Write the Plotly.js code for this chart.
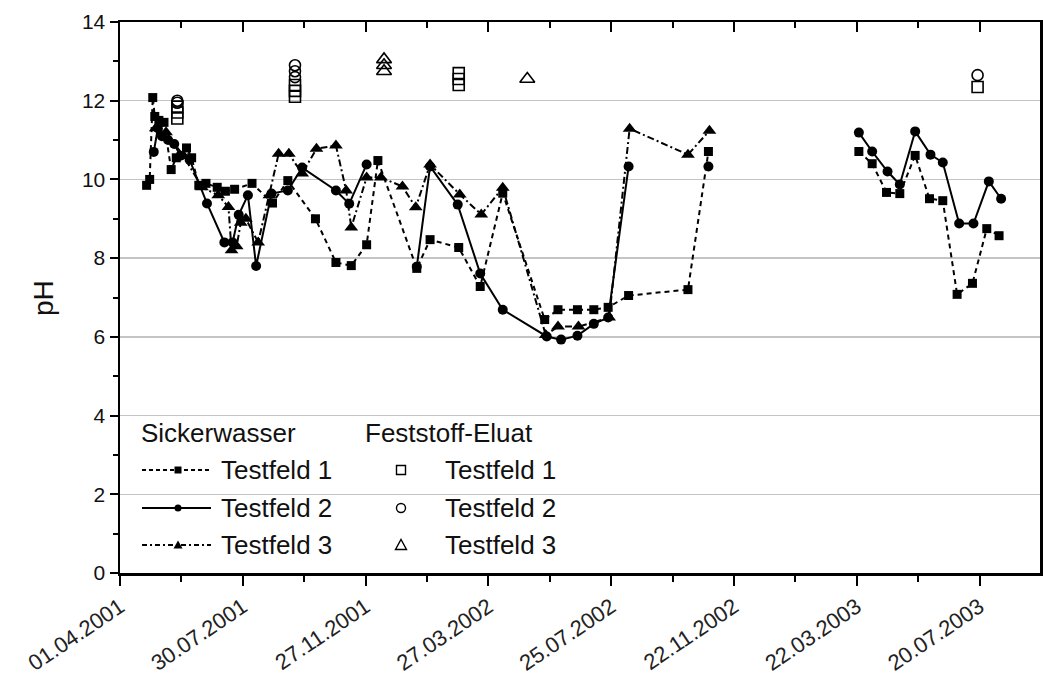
<!DOCTYPE html>
<html><head><meta charset="utf-8">
<script src="https://cdn.plot.ly/plotly-3.0.1.min.js"></script>
<style>html,body{margin:0;padding:0;background:#fff}#chart{width:1043px;height:682px}</style>
</head><body><div id="chart"></div><script>
// ---------- data ----------
const tickDates  = ['2001-04-01','2001-07-30','2001-11-27','2002-03-27','2002-07-25','2002-11-22','2003-03-22','2003-07-20'];
const tickLabels = ['01.04.2001','30.07.2001','27.11.2001','27.03.2002','25.07.2002','22.11.2002','22.03.2003','20.07.2003'];
const minorDates = ['2001-05-31','2001-09-28','2002-01-26','2002-05-26','2002-09-23','2003-01-21','2003-05-21','2003-09-18'];

// Sickerwasser Testfeld 1 (filled squares, dashed)
const sw1Dates = ['2001-04-27','2001-04-30','2001-05-03','2001-05-05','2001-05-09','2001-05-14','2001-05-21','2001-05-26','2001-06-05','2001-06-10','2001-06-17','2001-06-24','2001-07-05','2001-07-13','2001-07-22','2001-08-08','2001-08-28','2001-09-12','2001-10-09','2001-10-29','2001-11-13','2001-11-28','2001-12-09','2002-01-16','2002-01-29','2002-02-26','2002-03-19','2002-04-10','2002-05-21','2002-06-03','2002-06-22','2002-07-08','2002-07-22','2002-08-11','2002-10-08','2002-10-28','2003-01-01','2003-03-24','2003-04-06','2003-04-20','2003-05-03','2003-05-18','2003-06-01','2003-06-14','2003-06-28','2003-07-13','2003-07-27','2003-08-08'];
const sw1Values = [9.85,10.0,12.08,11.6,11.5,11.45,10.25,10.55,10.8,10.55,9.85,9.9,9.8,9.7,9.75,9.9,9.4,9.97,9.0,7.89,7.81,8.34,10.48,7.74,8.47,8.27,7.28,9.65,6.44,6.69,6.69,6.69,6.75,7.05,7.2,10.71,null,10.71,10.40,9.67,9.64,10.61,9.51,9.46,7.08,7.36,8.75,8.57];

// Sickerwasser Testfeld 2 (filled circles, solid)
const sw2Dates = ['2001-05-04','2001-05-08','2001-05-12','2001-05-18','2001-05-24','2001-05-30','2001-06-08','2001-06-25','2001-07-12','2001-07-20','2001-07-26','2001-08-04','2001-08-12','2001-08-27','2001-09-12','2001-09-26','2001-10-29','2001-11-11','2001-11-28','2001-12-20','2002-01-16','2002-01-29','2002-02-25','2002-03-19','2002-04-10','2002-05-23','2002-06-06','2002-06-22','2002-07-08','2002-07-22','2002-08-11','2002-09-20','2002-10-28','2003-01-01','2003-03-24','2003-04-06','2003-04-21','2003-05-03','2003-05-18','2003-06-02','2003-06-14','2003-06-30','2003-07-14','2003-07-29','2003-08-10'];
const sw2Values = [10.7,11.3,11.1,11.0,10.9,10.6,10.5,9.39,8.4,8.4,9.1,9.6,7.8,9.64,9.72,10.3,9.72,9.38,10.38,null,7.78,10.33,9.36,7.61,6.69,6.01,5.93,6.03,6.33,6.49,10.33,null,10.33,null,11.19,10.71,10.2,9.87,11.22,10.63,10.43,8.88,8.88,9.95,9.51];

// Sickerwasser Testfeld 3 (filled triangles, dash-dot)
const sw3Dates = ['2001-05-06','2001-05-16','2001-06-02','2001-06-20','2001-07-06','2001-07-16','2001-07-19','2001-07-24','2001-07-28','2001-08-02','2001-08-14','2001-08-25','2001-09-03','2001-09-13','2001-09-26','2001-10-10','2001-10-29','2001-11-08','2001-11-13','2001-11-28','2001-12-12','2002-01-02','2002-01-15','2002-01-29','2002-02-27','2002-03-20','2002-04-10','2002-05-22','2002-06-03','2002-06-23','2002-07-23','2002-08-12','2002-10-08','2002-10-29'];
const sw3Values = [11.3,11.2,10.6,9.8,9.6,9.3,8.2,8.3,8.9,9.0,8.4,9.6,10.65,10.65,10.15,10.78,10.86,9.72,8.78,10.05,10.05,9.82,9.29,10.38,9.62,9.11,9.79,6.05,6.26,6.26,6.49,11.29,10.63,11.24];

// Feststoff-Eluat (open markers)
const el1Dates  = ['2001-05-27','2001-05-27','2001-05-27','2001-09-19','2001-09-19','2001-09-19','2002-02-26','2002-02-26','2002-02-26','2003-07-18'];
const el1Values = [11.55,11.7,11.85,12.1,12.25,12.4,12.4,12.55,12.7,12.35];
const el2Dates  = ['2001-05-27','2001-05-27','2001-09-19','2001-09-19','2001-09-19','2003-07-18'];
const el2Values = [11.95,12.0,12.6,12.75,12.9,12.65];
const el3Dates  = ['2001-12-15','2001-12-15','2001-12-15','2002-05-04'];
const el3Values = [12.75,12.9,13.05,12.55];

const xRange = ['2001-04-01','2003-09-17'];
const FONT = '"Liberation Sans", Arial, sans-serif';

// ---------- traces ----------
const traces = [
  {x: sw1Dates, y: sw1Values, type:'scatter', mode:'lines+markers', connectgaps:false,
   line:{color:'#000', width:2, dash:'5px,4px'}, marker:{symbol:'square', size:9, color:'#000'}},
  {x: sw2Dates, y: sw2Values, type:'scatter', mode:'lines+markers', connectgaps:false,
   line:{color:'#000', width:2}, marker:{symbol:'circle', size:10, color:'#000'}},
  {x: sw3Dates, y: sw3Values, type:'scatter', mode:'lines+markers', connectgaps:false,
   line:{color:'#000', width:2, dash:'7px,3px,2px,3px'}, marker:{symbol:'triangle-up', size:12, color:'#000'}},
  {x: el1Dates, y: el1Values, type:'scatter', mode:'markers',
   marker:{symbol:'square-open', size:11, color:'#000', line:{width:1.6}}},
  {x: el2Dates, y: el2Values, type:'scatter', mode:'markers',
   marker:{symbol:'circle-open', size:11, color:'#000', line:{width:1.6}}},
  {x: el3Dates, y: el3Values, type:'scatter', mode:'markers',
   marker:{symbol:'triangle-up-open', size:13, color:'#000', line:{width:1.6}}},
  {x: [], y: [], type:'scatter', mode:'markers', xaxis:'x2', hoverinfo:'skip'}
];

// ---------- manual legend ----------
const L = 120, R = 1040, T = 22, B = 573;
const px = v => (v - L) / (R - L);
const py = v => (B - v) / (B - T);
const shapes = [
  {type:'rect', xref:'paper', yref:'paper', x0:px(122), x1:px(585), y0:py(571), y1:py(400),
   fillcolor:'#fff', line:{width:0}, layer:'between'}
];
const annotations = [
  {text:'pH', xref:'paper', yref:'paper', x:px(43), y:py(298), showarrow:false, textangle:-90,
   font:{family:FONT, size:28, color:'#111'}, xanchor:'center', yanchor:'middle'}
];
function txt(t, x, y){
  annotations.push({text:t, xref:'paper', yref:'paper', x:px(x), y:py(y), showarrow:false,
    xanchor:'left', yanchor:'middle', font:{family:FONT, size:26, color:'#111'}});
}
txt('Sickerwasser', 139, 433);
txt('Feststoff-Eluat', 363, 433);
const rows = [470, 508, 545];
const dashes = ['4px,3px', 'solid', '5px,3px,2px,3px'];
rows.forEach((ry, i) => {
  txt('Testfeld ' + (i+1), 219, ry);
  txt('Testfeld ' + (i+1), 443, ry);
  shapes.push({type:'line', xref:'paper', yref:'paper', x0:px(142), x1:px(211), y0:py(ry), y1:py(ry),
    line:{color:'#000', width:1.8, dash:dashes[i]}});
});
function mk(type, cx, cy, fill, size, path){
  const s = {type:type, xref:'paper', yref:'paper', xsizemode:'pixel', ysizemode:'pixel',
    xanchor:px(cx), yanchor:py(cy), line:{color:'#000', width: fill ? 0 : 1.4},
    fillcolor: fill ? '#000' : 'rgba(0,0,0,0)'};
  if (path) { s.path = path; }
  else { s.x0 = -size; s.x1 = size; s.y0 = -size; s.y1 = size; }
  shapes.push(s);
}
mk('rect', 178, 470, true, 3.5);
mk('circle', 178, 508, true, 3.5);
mk('path', 178, 545, true, 0, 'M-4.5,-3.5 L4.5,-3.5 L0,4.5 Z');
mk('rect', 401, 470, false, 4.5);
mk('circle', 401, 508, false, 4.5);
mk('path', 401, 545, false, 0, 'M-5.5,-4.5 L5.5,-4.5 L0,5.5 Z');

// ---------- layout ----------
const layout = {
  width:1043, height:682,
  margin:{l:L, r:1043-R, t:T, b:682-B},
  paper_bgcolor:'#fff', plot_bgcolor:'#fff',
  showlegend:false,
  font:{family:FONT, color:'#111'},
  xaxis:{type:'date', range:xRange, tickmode:'array', tickvals:tickDates, ticktext:tickLabels,
    tickangle:-34, ticks:'outside', ticklen:10, tickwidth:2, tickcolor:'#000',
    showline:true, linewidth:2.5, linecolor:'#000', showgrid:false, zeroline:false,
    tickfont:{family:FONT, size:22, color:'#222'},
    minor:{tickvals:minorDates, ticks:'outside', ticklen:6, tickwidth:2, tickcolor:'#000', showgrid:false}},
  xaxis2:{type:'date', overlaying:'x', side:'top', range:xRange, tickmode:'array', tickvals:tickDates,
    ticks:'inside', ticklen:10, tickwidth:2, tickcolor:'#000', showticklabels:false,
    showline:true, linewidth:2, linecolor:'#000', showgrid:false, zeroline:false,
    minor:{tickvals:minorDates, ticks:'inside', ticklen:6, tickwidth:2, tickcolor:'#000', showgrid:false}},
  yaxis:{range:[0,14], tick0:0, dtick:2, ticks:'outside', ticklen:8, tickwidth:2, tickcolor:'#000',
    showline:true, linewidth:2.5, linecolor:'#000', mirror:'ticks',
    showgrid:true, gridcolor:'#c4c4c4', gridwidth:1.5, zeroline:false,
    tickfont:{family:FONT, size:21, color:'#111'},
    minor:{dtick:1, ticks:'outside', ticklen:5, tickwidth:2, tickcolor:'#000', showgrid:false}},
  shapes: shapes,
  annotations: annotations
};

Plotly.newPlot('chart', traces, layout, {staticPlot:true, displayModeBar:false});
</script></body></html>
